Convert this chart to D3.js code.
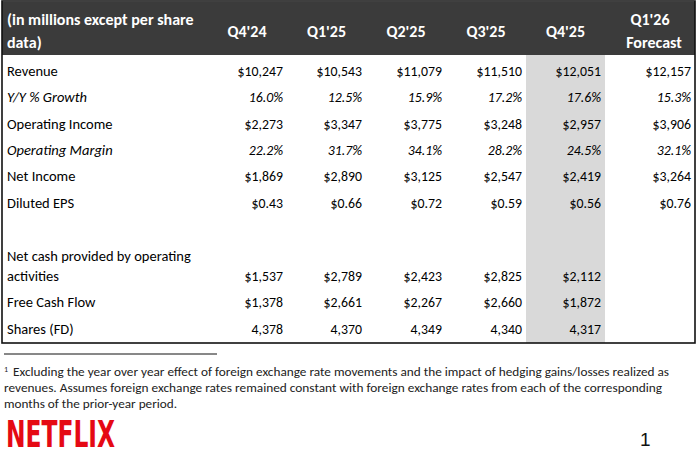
<!DOCTYPE html>
<html>
<head>
<meta charset="utf-8">
<script src="https://cdn.jsdelivr.net/npm/d3@7"></script>
<style>
  body { margin: 0; background: #fff; }
  svg { display: block; }
  .cell { font-family: Carlito, Calibri, Lato, sans-serif; font-size: 14.5px; fill: #000; }
  .val { font-size: 13.8px; }
  .head { font-weight: bold; fill: #fff; font-size: 16px; }
  .note { font-family: Carlito, Calibri, Lato, sans-serif; font-size: 12px; fill: #222; }
</style>
</head>
<body>
<svg id="chart"></svg>
<script>
// quarters across the top
var quarters = ["Q4'24", "Q1'25", "Q2'25", "Q3'25", "Q4'25", "Q1'26"];
var quarterSub = ["", "", "", "", "", "Forecast"];
var headerLabel = ["(in millions except per share", "data)"];

var rowLabels = ["Revenue", "Y/Y % Growth", "Operating Income", "Operating Margin",
  "Net Income", "Diluted EPS", "Net cash provided by operating|activities",
  "Free Cash Flow", "Shares (FD)"];

var revenue   = [10247, 10543, 11079, 11510, 12051, 12157];
var yyGrowth  = [16.0, 12.5, 15.9, 17.2, 17.6, 15.3];
var opIncome  = [2273, 3347, 3775, 3248, 2957, 3906];
var opMargin  = [22.2, 31.7, 34.1, 28.2, 24.5, 32.1];
var netIncome = [1869, 2890, 3125, 2547, 2419, 3264];
var dilutedEps = [0.43, 0.66, 0.72, 0.59, 0.56, 0.76];
var netCash   = [1537, 2789, 2423, 2825, 2112, null];
var freeCash  = [1378, 2661, 2267, 2660, 1872, null];
var sharesFd  = [4378, 4370, 4349, 4340, 4317, null];

var footnote = [
  "Excluding the year over year effect of foreign exchange rate movements and the impact of hedging gains/losses realized as",
  "revenues. Assumes foreign exchange rates remained constant with foreign exchange rates from each of the corresponding",
  "months of the prior-year period."
];

var dollars = d3.format("$,"), pct = function(v) { return d3.format(".1f")(v) + "%"; },
    eps = d3.format("$.2f"), plain = d3.format(",");

var rows = [
  {values: revenue, fmt: dollars},
  {values: yyGrowth, fmt: pct, italic: true},
  {values: opIncome, fmt: dollars},
  {values: opMargin, fmt: pct, italic: true},
  {values: netIncome, fmt: dollars},
  {values: dilutedEps, fmt: eps},
  {values: netCash, fmt: dollars},
  {values: freeCash, fmt: dollars},
  {values: sharesFd, fmt: plain}
];
rows.forEach(function(r, i) { r.label = rowLabels[i]; });

// layout
var width = 700, height = 457;
var tableLeft = 2, tableRight = 695, tableTop = 2, headBottom = 55, tableBottom = 343;
var colEdges = [207, 287, 366, 446, 526, 605, 695];
var rowSlots = [0, 1, 2, 3, 4, 5, 7.8, 8.8, 9.8];

var svg = d3.select("#chart").attr("width", width).attr("height", height);

var yScale = d3.scaleLinear().domain([0, 1]).range([71, 97.3]);

// highlighted current quarter column
svg.append("rect")
    .attr("x", colEdges[4]).attr("y", headBottom)
    .attr("width", colEdges[5] - colEdges[4]).attr("height", tableBottom - headBottom)
    .attr("fill", "#d9d9d9");

// header band
svg.append("rect")
    .attr("x", tableLeft).attr("y", tableTop)
    .attr("width", tableRight - tableLeft).attr("height", headBottom - tableTop)
    .attr("fill", "#3b3b3b");

svg.append("text")
    .attr("class", "cell head")
    .selectAll("tspan")
    .data(headerLabel)
    .join("tspan")
      .attr("x", 7)
      .attr("y", function(d, i) { return i === 0 ? 25 : 48; })
      .text(function(d) { return d; });

svg.selectAll(".qhead")
    .data(quarters)
    .join("text")
      .attr("class", "cell head qhead")
      .attr("text-anchor", "middle")
      .attr("x", function(d, i) { return (colEdges[i] + colEdges[i + 1]) / 2; })
      .attr("y", function(d, i) { return quarterSub[i] ? 25 : 37; })
      .text(function(d) { return d; });

svg.selectAll(".qsub")
    .data(quarterSub.filter(function(d) { return d; }))
    .join("text")
      .attr("class", "cell head qsub")
      .attr("text-anchor", "middle")
      .attr("x", (colEdges[5] + colEdges[6]) / 2 + 4)
      .attr("y", 48)
      .text(function(d) { return d; });

// body rows
var rowG = svg.selectAll(".row")
    .data(rows)
    .join("g")
      .attr("class", "row")
      .attr("transform", function(d, i) { return "translate(0," + (yScale(rowSlots[i]) + 5) + ")"; })
      .style("font-style", function(d) { return d.italic ? "italic" : "normal"; });

rowG.append("text")
    .attr("class", "cell")
    .selectAll("tspan")
    .data(function(d) { var parts = d.label.split("|"); return parts.map(function(p, j) { return {t: p, j: j, n: parts.length}; }); })
    .join("tspan")
      .attr("x", 7)
      .attr("y", function(d) { return (d.j - (d.n - 1)) * 20; })
      .text(function(d) { return d.t; });

rowG.selectAll(".val")
    .data(function(d) { return d.values.map(function(v) { return {v: v, fmt: d.fmt}; }); })
    .join("text")
      .attr("class", "cell val")
      .attr("text-anchor", "end")
      .attr("x", function(d, i) { return colEdges[i + 1] - 4; })
      .text(function(d) { return d.v == null ? "" : d.fmt(d.v); });

// outer border
svg.append("rect")
    .attr("x", tableLeft).attr("y", tableTop - 1)
    .attr("width", tableRight - tableLeft).attr("height", tableBottom - tableTop + 1)
    .attr("fill", "none")
    .attr("stroke", "#111")
    .attr("stroke-width", 1.6);

// footnote
svg.append("line")
    .attr("x1", 4).attr("x2", 217).attr("y1", 354).attr("y2", 354)
    .attr("stroke", "#111").attr("stroke-width", 1);

svg.append("text")
    .attr("class", "note")
    .attr("x", 4).attr("y", 372)
    .style("font-size", "8px")
    .text("1");

svg.selectAll(".fn")
    .data(footnote)
    .join("text")
      .attr("class", "note fn")
      .attr("x", function(d, i) { return i === 0 ? 13 : 4; })
      .attr("y", function(d, i) { return 376 + i * 16; })
      .attr("textLength", function(d, i) { return [656, 658, 173][i]; })
      .attr("lengthAdjust", "spacingAndGlyphs")
      .text(function(d) { return d; });

// logo and page number
svg.append("text")
    .attr("x", 6).attr("y", 447)
    .attr("fill", "#e50914")
    .style("font-family", "'Liberation Sans Narrow', 'DejaVu Sans Condensed', sans-serif")
    .style("font-weight", "bold")
    .style("font-size", "37px")
    .attr("textLength", 109)
    .attr("lengthAdjust", "spacingAndGlyphs")
    .text("NETFLIX");

svg.append("text")
    .attr("x", 640).attr("y", 446)
    .attr("fill", "#111")
    .style("font-family", "'Liberation Sans', Arial, sans-serif")
    .style("font-size", "19px")
    .text("1");
</script>
</body>
</html>
